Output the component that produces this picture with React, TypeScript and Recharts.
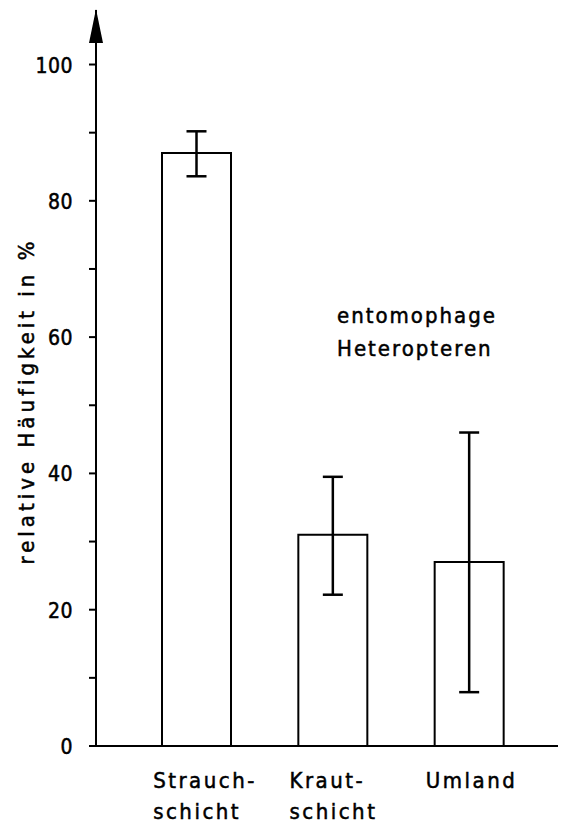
import React from "react";
import { BarChart, Bar, XAxis, YAxis, ErrorBar, ReferenceLine } from "recharts";

// Werte
const categories = ["Strauchschicht", "Krautschicht", "Umland"];
const categoryLines = [["Strauch-", "schicht"], ["Kraut-", "schicht"], ["Umland"]];
const values = [87, 31, 27];
const errorLow = [3.4, 8.8, 19.1];
const errorHigh = [3.2, 8.5, 19.0];
const yTicks = [0, 10, 20, 30, 40, 50, 60, 70, 80, 90, 100];
const yLabeledTicks = [0, 20, 40, 60, 80, 100];

const FONT = '"DejaVu Sans Condensed", "DejaVu Sans", sans-serif';
const textStyle = { fontFamily: FONT, fill: "#000", stroke: "#000", strokeWidth: 0.5 };

const data = categories.map((name, i) => ({
  name,
  value: values[i],
  err: [errorLow[i], errorHigh[i]],
}));

const YTick = (props: any) => {
  const { x, y, payload } = props;
  if (!yLabeledTicks.includes(payload.value)) return <g />;
  return (
    <text x={x} y={y} dy={8} textAnchor="end" fontSize={21} letterSpacing={0.5} style={textStyle}>
      {payload.value}
    </text>
  );
};

const XTick = (props: any) => {
  const { x, y, index } = props;
  const lines = categoryLines[index] || [];
  return (
    <g>
      {lines.map((line, i) => (
        <text
          key={i}
          x={x - 43}
          y={y + 34 + i * 31}
          textAnchor="start"
          fontSize={22}
          letterSpacing={2.5}
          style={textStyle}
        >
          {line}
        </text>
      ))}
    </g>
  );
};

// Pfeilspitze an der y-Achse
const Arrow = (props: any) => {
  const { x1, y1 } = props;
  return <path d={`M${x1} ${y1 - 1} L${x1 - 7} ${y1 + 33} L${x1 + 7} ${y1 + 33} Z`} fill="#000" />;
};

const YLabel = () => (
  <text
    x={28}
    y={401}
    transform="rotate(-90 28 401)"
    textAnchor="middle"
    dominantBaseline="middle"
    fontSize={22}
    letterSpacing={4}
    style={textStyle}
  >
    relative Häufigkeit in %
  </text>
);

export default function App() {
  return (
    <div style={{ position: "absolute", left: 0, top: 0, width: 566, height: 824, background: "#fff" }}>
      <BarChart width={566} height={824} data={data} margin={{ top: 10, right: 8, bottom: 0, left: 0 }}>
        <XAxis
          dataKey="name"
          height={78}
          tickLine={false}
          tick={<XTick />}
          interval={0}
          padding={{ left: 32, right: 21 }}
          axisLine={{ stroke: "#000", strokeWidth: 2 }}
        />
        <YAxis
          width={96}
          domain={[0, 108]}
          ticks={yTicks}
          interval={0}
          tickSize={7}
          tickMargin={16}
          tick={<YTick />}
          tickLine={{ stroke: "#000", strokeWidth: 2 }}
          axisLine={{ stroke: "#000", strokeWidth: 2 }}
          label={<YLabel />}
        />
        <ReferenceLine y={108} shape={<Arrow />} />
        <Bar dataKey="value" fill="#fff" stroke="#000" strokeWidth={2} barSize={69} isAnimationActive={false}>
          <ErrorBar dataKey="err" width={10} stroke="#000" strokeWidth={2.5} direction="y" />
        </Bar>
      </BarChart>
      <svg
        width={566}
        height={824}
        style={{ position: "absolute", left: 0, top: 0, pointerEvents: "none" }}
      >
        <text x={337} y={323} fontSize={22} letterSpacing={2} style={textStyle}>
          entomophage
        </text>
        <text x={337} y={356} fontSize={22} letterSpacing={2} style={textStyle}>
          Heteropteren
        </text>
      </svg>
    </div>
  );
}
